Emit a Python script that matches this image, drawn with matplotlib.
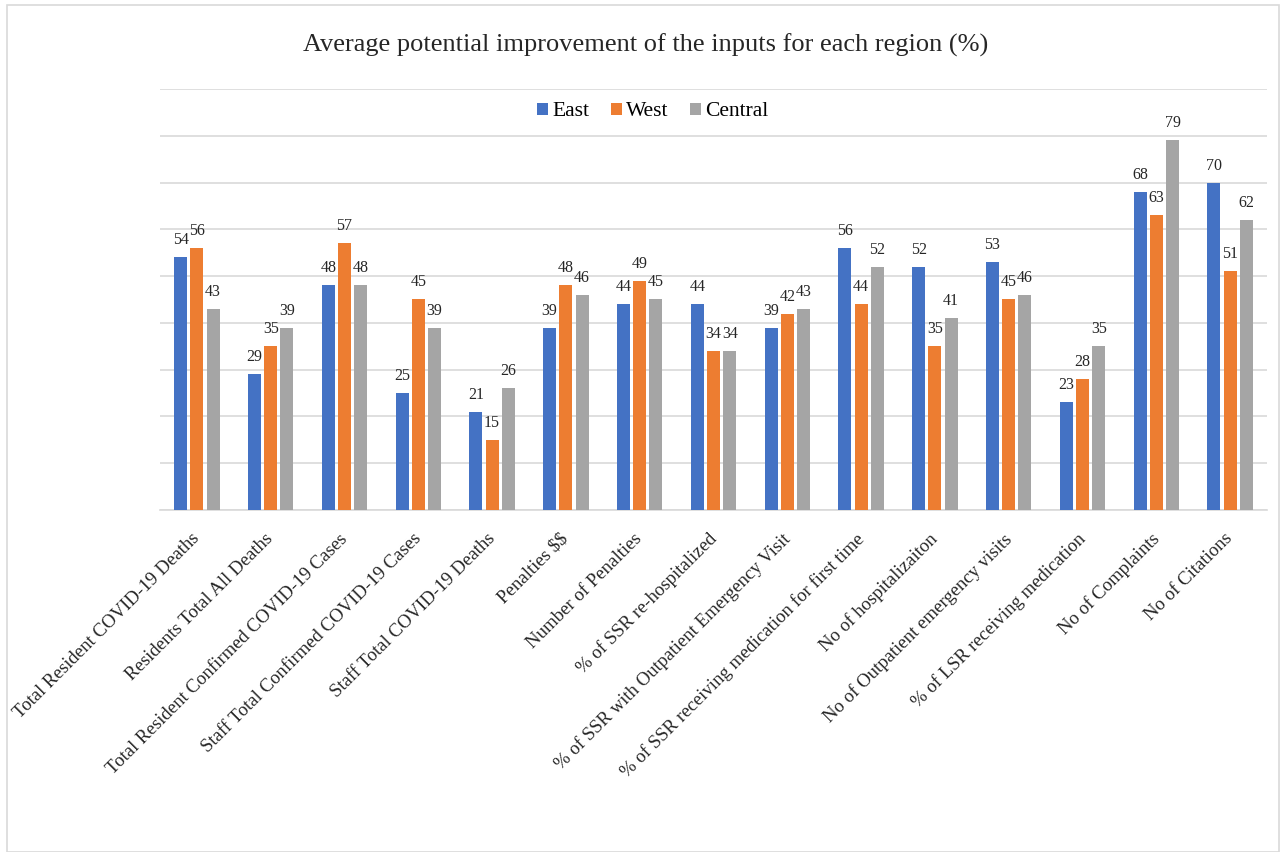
import matplotlib
matplotlib.use("Agg")
import matplotlib.pyplot as plt
import matplotlib.transforms as mtransforms
import numpy as np
from matplotlib.patches import Rectangle

categories = [
    "Total Resident COVID-19 Deaths",
    "Residents Total All Deaths",
    "Total Resident Confirmed COVID-19 Cases",
    "Staff Total Confirmed COVID-19 Cases",
    "Staff Total COVID-19 Deaths",
    "Penalties $$",
    "Number of Penalties",
    "% of SSR re-hospitalized",
    "% of SSR with Outpatient Emergency Visit",
    "% of SSR receiving medication for first time",
    "No of hospitalizaiton",
    "No of Outpatient emergency visits",
    "% of LSR receiving medication",
    "No of Complaints",
    "No of Citations",
]
east = [54, 29, 48, 25, 21, 39, 44, 44, 39, 56, 52, 53, 23, 68, 70]
west = [56, 35, 57, 45, 15, 48, 49, 34, 42, 44, 35, 45, 28, 63, 51]
central = [43, 39, 48, 39, 26, 46, 45, 34, 43, 52, 41, 46, 35, 79, 62]

series = [("East", east, "#4472C4"), ("West", west, "#ED7D31"), ("Central", central, "#A5A5A5")]

plt.rcParams["font.family"] = ["Liberation Serif", "DejaVu Serif"]
plt.rcParams["text.parse_math"] = False

fig = plt.figure(figsize=(12.81, 8.52), dpi=100)
fig.patches.append(Rectangle((7 / 1281, 0), 1 - 9 / 1281, 1 - 5 / 852, transform=fig.transFigure,
                             fill=False, edgecolor="#D9D9D9", linewidth=1.2))

ax = fig.add_axes([160 / 1281, (852 - 510) / 852, 1107 / 1281, 421 / 852])

x = np.arange(len(categories))
step = 0.22
for i, (name, vals, color) in enumerate(series):
    pos = x + (i - 1) * step
    ax.bar(pos, vals, width=0.175, color=color, label=name, zorder=3)
    for p, v in zip(pos, vals):
        ax.annotate(f"{v}", (p, v), xytext=(0, 6.5), textcoords="offset points",
                    ha="center", va="bottom", fontsize=11.5, color="#262626")

ax.set_xlim(-0.5, len(categories) - 0.5)
ax.set_ylim(0, 90)
ax.set_yticks(np.arange(0, 91, 10))
ax.yaxis.grid(True, color="#D9D9D9", linewidth=1.2, zorder=0)
ax.tick_params(axis="y", left=False, labelleft=False)
ax.tick_params(axis="x", length=0, pad=6)
for s in ["top", "right", "left"]:
    ax.spines[s].set_visible(False)
ax.spines["bottom"].set_color("#D9D9D9")
ax.spines["bottom"].set_linewidth(1.2)

ax.set_xticks(x)
ax.set_xticklabels(categories, rotation=45, ha="right", rotation_mode="anchor",
                   fontsize=13.5, color="#262626")
# nudge the slanted category labels so their ends sit under each group
shift = mtransforms.ScaledTranslation(-6 / 100, -12 / 100, fig.dpi_scale_trans)
for lbl in ax.get_xticklabels():
    lbl.set_transform(lbl.get_transform() + shift)

ax.legend(loc="center", bbox_to_anchor=((653 - 160) / 1107, 1 - (112 - 89) / 421), ncol=3,
          frameon=False, fontsize=15.5, handlelength=0.5, handleheight=0.5, handletextpad=0.2,
          columnspacing=1.0, borderaxespad=0.0)

fig.text(646 / 1281, 1 - 45 / 852, "Average potential improvement of the inputs for each region (%)",
         ha="center", va="center", fontsize=19, color="#262626")

fig.savefig("out.png", dpi=100, facecolor="white")
